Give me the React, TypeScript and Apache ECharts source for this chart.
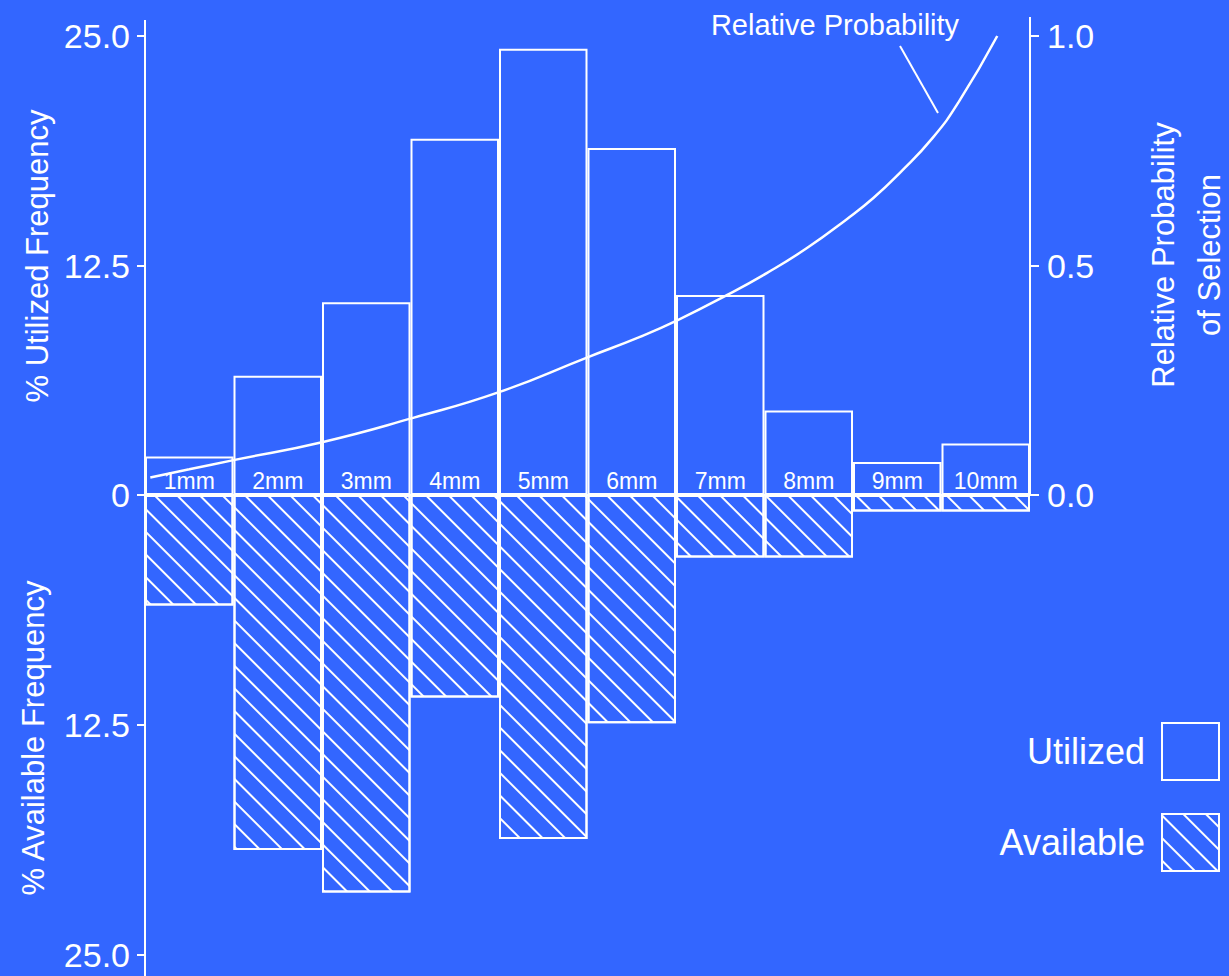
import React, { useEffect, useRef } from "react";
import * as echarts from "echarts";

const categories = ["1mm", "2mm", "3mm", "4mm", "5mm", "6mm", "7mm", "8mm", "9mm", "10mm"];
const utilized = [2.1, 6.5, 10.5, 19.4, 24.3, 18.9, 10.9, 4.6, 1.8, 2.8];
const available = [6.0, 19.3, 21.6, 11.0, 18.7, 12.4, 3.4, 3.4, 0.9, 0.9];
// relative probability curve: x in category-width units (0 = left edge of 1mm), y on right axis
const probX = [0.06, 0.5, 1.0, 2.0, 3.03, 4.0, 5.0, 5.6, 6.02, 6.58, 7.03, 7.48, 7.93, 8.23, 8.53, 8.9, 9.2, 9.63];
const probY = [0.038, 0.056, 0.076, 0.115, 0.168, 0.224, 0.3, 0.345, 0.381, 0.436, 0.484, 0.538, 0.601, 0.647, 0.702, 0.778, 0.858, 1.0];

const FONT = "'Liberation Sans', Arial, Helvetica, sans-serif";
const BG = "#3366ff";
const W = "#ffffff";

export default function App() {
  const ref = useRef<HTMLDivElement>(null);
  useEffect(() => {
    if (!ref.current) return;
    const chart = echarts.init(ref.current, null, { renderer: "svg" });
    const hatch = {
      symbol: "rect",
      symbolSize: 1,
      color: W,
      dashArrayX: [1, 0],
      dashArrayY: [2, 14],
      rotation: Math.PI / 4,
    };
    const gridL = 145;
    const gridR = 1229 - 1030;
    chart.setOption({
      animation: false,
      backgroundColor: BG,
      textStyle: { fontFamily: FONT, color: W },
      grid: [
        { left: gridL, right: gridR, top: 36, height: 459 },
        { left: gridL, right: gridR, top: 495, height: 460 },
      ],
      legend: {
        orient: "vertical",
        right: 9,
        top: 722,
        padding: 0,
        align: "right",
        itemWidth: 57,
        itemHeight: 57,
        itemGap: 32,
        icon: "rect",
        textStyle: { color: W, fontSize: 36, fontFamily: FONT, padding: [0, 12, 0, 0] },
        data: [
          { name: "Utilized", itemStyle: { color: "rgba(0,0,0,0)", borderColor: W, borderWidth: 2 } },
          { name: "Available", itemStyle: { color: "rgba(0,0,0,0)", borderColor: W, borderWidth: 2, decal: hatch } },
        ],
      },
      xAxis: [
        {
          type: "category",
          gridIndex: 0,
          data: categories,
          boundaryGap: true,
          axisLine: { show: true, lineStyle: { color: W, width: 2 } },
          axisTick: { show: false },
          axisLabel: { inside: true, color: W, fontSize: 23, fontFamily: FONT, margin: 3 },
          splitLine: { show: false },
        },
        {
          type: "category",
          gridIndex: 1,
          position: "top",
          data: categories,
          boundaryGap: true,
          axisLine: { show: true, lineStyle: { color: W, width: 2 } },
          axisTick: { show: false },
          axisLabel: { show: false },
          splitLine: { show: false },
        },
        {
          type: "value",
          gridIndex: 0,
          min: 0,
          max: 10,
          show: false,
        },
      ],
      yAxis: [
        {
          type: "value",
          gridIndex: 0,
          min: 0,
          max: 25,
          interval: 12.5,
          axisLine: { show: true, lineStyle: { color: W, width: 2 } },
          axisTick: { show: true, length: 8, lineStyle: { color: W, width: 2 } },
          axisLabel: {
            color: W,
            fontSize: 34,
            fontFamily: FONT,
            margin: 15,
            formatter: (v: number) => (v === 0 ? "0" : v.toFixed(1)),
          },
          splitLine: { show: false },
        },
        {
          type: "value",
          gridIndex: 0,
          position: "right",
          min: 0,
          max: 1,
          interval: 0.5,
          axisLine: { show: true, lineStyle: { color: W, width: 2 } },
          axisTick: { show: true, length: 9, lineStyle: { color: W, width: 2 } },
          axisLabel: {
            color: W,
            fontSize: 34,
            fontFamily: FONT,
            margin: 17,
            formatter: (v: number) => v.toFixed(1),
          },
          splitLine: { show: false },
        },
        {
          type: "value",
          gridIndex: 1,
          min: 0,
          max: 25,
          interval: 12.5,
          inverse: true,
          axisLine: { show: true, lineStyle: { color: W, width: 2 } },
          axisTick: { show: true, length: 8, lineStyle: { color: W, width: 2 } },
          axisLabel: {
            color: W,
            fontSize: 34,
            fontFamily: FONT,
            margin: 15,
            formatter: (v: number) => (v === 0 ? "" : v.toFixed(1)),
          },
          splitLine: { show: false },
        },
      ],
      series: [
        {
          name: "Utilized",
          type: "bar",
          xAxisIndex: 0,
          yAxisIndex: 0,
          data: utilized,
          barWidth: "100%",
          barGap: "0%",
          itemStyle: { color: "rgba(0,0,0,0)", borderColor: W, borderWidth: 2 },
          z: 2,
        },
        {
          name: "Available",
          type: "bar",
          xAxisIndex: 1,
          yAxisIndex: 2,
          data: available,
          barWidth: "100%",
          barGap: "0%",
          itemStyle: { color: "rgba(0,0,0,0)", borderColor: W, borderWidth: 2, decal: hatch },
          z: 2,
        },
        {
          name: "Relative Probability",
          type: "line",
          xAxisIndex: 2,
          yAxisIndex: 1,
          data: probX.map((x, i) => [x, probY[i]]),
          smooth: 0.5,
          showSymbol: false,
          symbol: "none",
          lineStyle: { color: W, width: 2.5 },
          z: 3,
        },
      ],
      graphic: [
        // axis line extensions
        { type: "line", shape: { x1: 145, y1: 20, x2: 145, y2: 37 }, style: { stroke: W, lineWidth: 2 } },
        { type: "line", shape: { x1: 145, y1: 954, x2: 145, y2: 976 }, style: { stroke: W, lineWidth: 2 } },
        { type: "line", shape: { x1: 1030, y1: 17, x2: 1030, y2: 37 }, style: { stroke: W, lineWidth: 2 } },
        // axis titles
        {
          type: "text",
          x: 37,
          y: 256,
          rotation: Math.PI / 2,
          style: { text: "% Utilized Frequency", fill: W, font: `31px ${FONT}`, align: "center", verticalAlign: "middle" },
        },
        {
          type: "text",
          x: 33,
          y: 738,
          rotation: Math.PI / 2,
          style: { text: "% Available Frequency", fill: W, font: `31px ${FONT}`, align: "center", verticalAlign: "middle" },
        },
        {
          type: "text",
          x: 1163,
          y: 255,
          rotation: Math.PI / 2,
          style: { text: "Relative Probability", fill: W, font: `31px ${FONT}`, align: "center", verticalAlign: "middle" },
        },
        {
          type: "text",
          x: 1209,
          y: 255,
          rotation: Math.PI / 2,
          style: { text: "of Selection", fill: W, font: `31px ${FONT}`, align: "center", verticalAlign: "middle" },
        },
        // curve annotation
        {
          type: "text",
          x: 835,
          y: 25,
          style: { text: "Relative Probability", fill: W, font: `29px ${FONT}`, align: "center", verticalAlign: "middle" },
        },
        { type: "line", shape: { x1: 900, y1: 46, x2: 938, y2: 113 }, style: { stroke: W, lineWidth: 2 } },
      ],
    });
    return () => chart.dispose();
  }, []);
  return (
    <div
      ref={ref}
      style={{ position: "absolute", left: 0, top: 0, width: 1229, height: 976, background: BG }}
    />
  );
}
